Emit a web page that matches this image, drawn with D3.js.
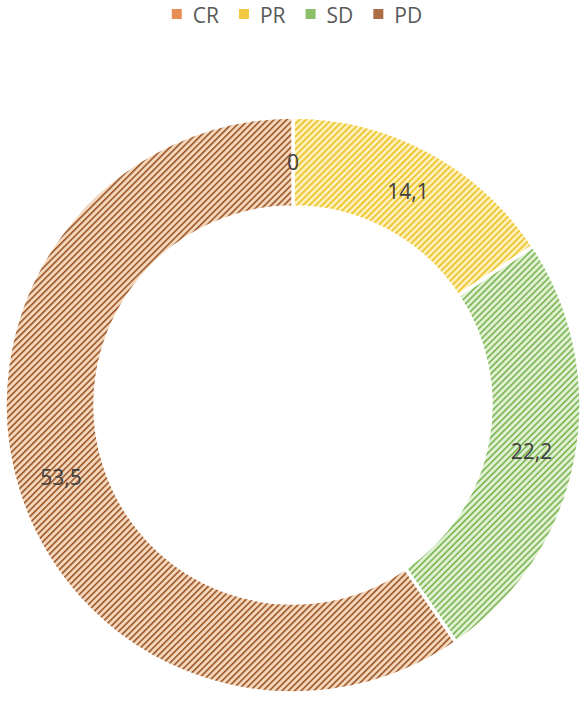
<!DOCTYPE html>
<html>
<head>
<meta charset="utf-8">
<script src="https://cdn.jsdelivr.net/npm/d3@7"></script>
<style>
    body { margin: 0; background: #fff; }
    svg { display: block; }
    text { font-family: "Open Sans", sans-serif; }
</style>
</head>
<body>
<div id="chart"></div>
<script>
// Chart data
const categories = ['CR', 'PR', 'SD', 'PD'];
const values = [0, 14.1, 22.2, 53.5];
const labels = ['0', '14,1', '22,2', '53,5'];

// Pattern colours (line, background) for each category
const lineColors = ['#e5793a', '#eec025', '#78b450', '#9c5526'];
const bgColors = ['#f8dcc6', '#fdf0b8', '#e2f1d4', '#f4d8be'];

const width = 588;
const height = 703;
const cx = 293, cy = 405;
const outerR = 288, innerR = 198;

const svg = d3.select('#chart')
    .append('svg')
    .attr('width', width)
    .attr('height', height);

// Upward diagonal stripe patterns
const defs = svg.append('defs');
categories.forEach(function(c, i) {
    const p = defs.append('pattern')
        .attr('id', 'pat-' + c)
        .attr('patternUnits', 'userSpaceOnUse')
        .attr('width', 4.5)
        .attr('height', 4.5)
        .attr('patternTransform', 'rotate(45)');
    p.append('rect')
        .attr('width', 4.5).attr('height', 4.5)
        .attr('fill', bgColors[i]);
    p.append('rect')
        .attr('width', 1.6).attr('height', 4.5)
        .attr('fill', lineColors[i]);
});

// Donut
const pie = d3.pie().sort(null).value(d => d);
const arcs = pie(values);
const arc = d3.arc().innerRadius(innerR).outerRadius(outerR);
const midArc = d3.arc().innerRadius((innerR + outerR) / 2).outerRadius((innerR + outerR) / 2);

const g = svg.append('g').attr('transform', `translate(${cx},${cy})`);

g.selectAll('path')
    .data(arcs)
    .enter()
    .append('path')
    .attr('d', arc)
    .attr('fill', (d, i) => `url(#pat-${categories[i]})`)
    .attr('stroke', '#fff')
    .attr('stroke-width', 3.5);

g.selectAll('text.label')
    .data(arcs)
    .enter()
    .append('text')
    .attr('class', 'label')
    .attr('transform', d => `translate(${midArc.centroid(d)})`)
    .attr('text-anchor', 'middle')
    .attr('dy', '0.36em')
    .attr('font-size', 21)
    .attr('fill', '#404040')
    .text((d, i) => labels[i]);

// Legend
const legend = svg.append('g');
const items = legend.selectAll('g')
    .data(categories)
    .enter()
    .append('g');

items.append('rect')
    .attr('y', 9)
    .attr('width', 10)
    .attr('height', 10)
    .attr('fill', (d, i) => lineColors[i])
    .attr('opacity', 0.85);

items.append('text')
    .attr('x', 21)
    .attr('y', 23)
    .attr('font-size', 21)
    .attr('fill', '#595959')
    .text(d => d);

let x = 0;
items.each(function() {
    const w = d3.select(this).select('text').node().getComputedTextLength();
    d3.select(this).attr('transform', `translate(${x},0)`);
    x += 21 + w + 20;
});
const total = x - 20;
legend.attr('transform', `translate(${(297 - total / 2)},0)`);
</script>
</body>
</html>
